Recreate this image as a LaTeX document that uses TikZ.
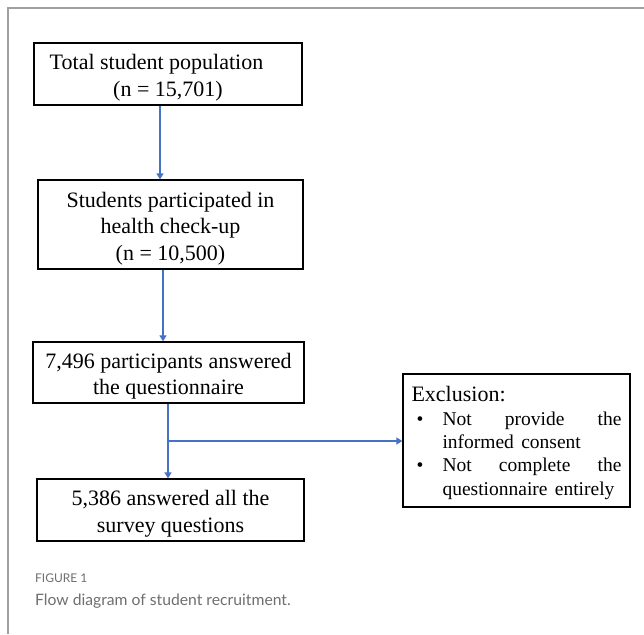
\documentclass[tikz,border=0pt]{standalone}
\usepackage{fontspec}
\setmainfont{Liberation Serif}
\newfontfamily\capfont{Lato}
\usetikzlibrary{arrows.meta}
\definecolor{arrblue}{HTML}{4472C4}
\definecolor{framegray}{HTML}{A0A0A0}
\definecolor{capgray}{HTML}{6E6E6E}
\newcommand{\firstline}{\rule{0pt}{23pt}}
\newcommand{\itemfont}{\fontsize{19.5}{23.3}\selectfont}
\newcommand{\bulletcol}{\hbox to 31pt{\hspace{5pt}\textbullet\hfil}}
\tikzset{
  box/.style={draw=black, line width=1.3pt, inner sep=0pt, align=center,
    font=\fontsize{22}{26.5}\selectfont},
  arr/.style={draw=arrblue, line width=1.8pt,
    -{Triangle[width=7pt,length=6pt]}},
  link/.style={draw=arrblue, line width=1.8pt},
  frameline/.style={draw=framegray, line width=1.2pt},
  capsmall/.style={anchor=base west, inner sep=0pt, text=capgray,
    font=\capfont\fontsize{12}{14}\selectfont},
  caplarge/.style={anchor=base west, inner sep=0pt, text=capgray,
    font=\capfont\fontsize{15.7}{19}\selectfont}
}
\begin{document}
\begin{tikzpicture}[x=1pt, y=-1pt]
\useasboundingbox (0,0) rectangle (644,634);
% frame
\coordinate (f0) at (8,634);
\coordinate (f1) at (8,8);
\coordinate (f2) at (644,8);
\draw[frameline] (f0) -- (f1) -- (f2);
% boxes
\node[box, minimum width=268pt, minimum height=62pt] (b1) at (168,74)
  {\firstline\hspace*{-23pt}Total student population\\(n = 15,701)};
\node[box, minimum width=265pt, minimum height=89pt] (b2) at (170.5,224.5)
  {\firstline Students participated in\\health check-up\\(n = 10,500)};
\node[box, minimum width=271pt, minimum height=61pt] (b3) at (168.5,372.5)
  {\firstline 7,496 participants answered\\the questionnaire};
\node[box, minimum width=267pt, minimum height=62pt] (b4) at (170.5,510)
  {\firstline 5,386 answered all the\\survey questions};
\node[box, minimum width=227pt, minimum height=133pt, text width=210pt, align=left,
  font=\fontsize{22}{23.3}\selectfont] (excl) at (516.5,440.5)
  {\leavevmode\rule{0pt}{20pt}Exclusion:\\
   \leavevmode{\itemfont\bulletcol\hbox to 179pt{Not\hfill provide\hfill the}}\\
   \leavevmode\hspace*{31pt}{\itemfont informed consent}\\
   \leavevmode{\itemfont\bulletcol\hbox to 179pt{Not\hfill complete\hfill the}}\\
   \leavevmode\hspace*{31pt}{\itemfont questionnaire entirely}};
% connector columns
\coordinate (x1) at (160,0);
\coordinate (x2) at (163,0);
\coordinate (j) at (168,441);
\draw[arr] (b1.south -| x1) -- (b2.north -| x1);
\draw[arr] (b2.south -| x2) -- (b3.north -| x2);
\draw[link] (b3.south -| j) -- (j);
\draw[arr] (j) -- (b4.north -| j);
\draw[arr] (j) -- (j -| excl.west);
% caption
\node[capsmall] (fig) at (35,582) {FIGURE 1};
\node[caplarge] (cap) at (35,605) {Flow diagram of student recruitment.};
\end{tikzpicture}
\end{document}
